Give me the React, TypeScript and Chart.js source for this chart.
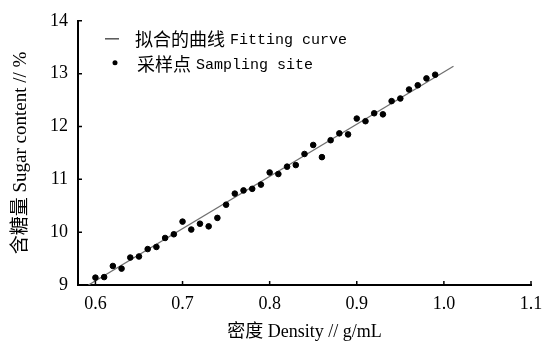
import React, { useEffect, useRef } from "react";
import { Chart, registerables } from "chart.js";

Chart.register(...registerables);

const densities = [0.60, 0.61, 0.62, 0.63, 0.64, 0.65, 0.66, 0.67, 0.68, 0.69, 0.70, 0.71, 0.72, 0.73, 0.74, 0.75, 0.76, 0.77, 0.78, 0.79, 0.80, 0.81, 0.82, 0.83, 0.84, 0.85, 0.86, 0.87, 0.88, 0.89, 0.90, 0.91, 0.92, 0.93, 0.94, 0.95, 0.96, 0.97, 0.98, 0.99];
const sugarContent = [9.14, 9.15, 9.36, 9.31, 9.52, 9.54, 9.68, 9.72, 9.89, 9.96, 10.20, 10.05, 10.16, 10.11, 10.27, 10.52, 10.73, 10.79, 10.82, 10.90, 11.13, 11.10, 11.24, 11.27, 11.48, 11.65, 11.42, 11.74, 11.87, 11.85, 12.15, 12.10, 12.25, 12.23, 12.48, 12.53, 12.70, 12.78, 12.91, 12.98];
const fitX = [0.592, 1.011];
const fitY = [9.0, 13.14];
const xTicks = [0.6, 0.7, 0.8, 0.9, 1.0, 1.1];
const yTicks = [9, 10, 11, 12, 13, 14];
const legendCn = ["拟合的曲线", "采样点"];
const legendEn = ["Fitting curve", "Sampling site"];
const xTitle = "密度 Density // g/mL";
const yTitle = "含糖量 Sugar content // %";

const CJK = "'Noto Sans CJK SC'";
const SERIF = "'Liberation Serif', 'Noto Sans CJK SC'";
const MONO = "'Liberation Mono', 'Noto Sans CJK SC'";

const inwardTicks = {
  id: "inwardTicks",
  afterDraw(chart: any) {
    const ctx = chart.ctx;
    const { left, bottom } = chart.chartArea;
    const xs = chart.scales.x;
    const ys = chart.scales.y;
    ctx.save();
    ctx.strokeStyle = "#000";
    ctx.lineWidth = 1.5;
    ctx.beginPath();
    for (const v of xTicks) {
      const px = xs.getPixelForValue(v);
      ctx.moveTo(px, bottom);
      ctx.lineTo(px, bottom - 4);
    }
    for (const v of yTicks) {
      const py = ys.getPixelForValue(v);
      ctx.moveTo(left, py);
      ctx.lineTo(left + 4, py);
    }
    ctx.stroke();
    ctx.restore();
  },
};

const customLegend = {
  id: "customLegend",
  afterDraw(chart: any) {
    const ctx = chart.ctx;
    const { left, top } = chart.chartArea;
    ctx.save();
    const rows = [top + 18, top + 43];
    ctx.strokeStyle = "#555";
    ctx.lineWidth = 1.5;
    ctx.beginPath();
    ctx.moveTo(left + 27, rows[0]);
    ctx.lineTo(left + 41, rows[0]);
    ctx.stroke();
    ctx.fillStyle = "#000";
    ctx.beginPath();
    ctx.arc(left + 37, rows[1] - 1, 2.5, 0, Math.PI * 2);
    ctx.fill();
    ctx.textBaseline = "middle";
    ctx.fillStyle = "#000";
    const starts = [left + 57, left + 59];
    for (let i = 0; i < 2; i++) {
      ctx.font = `18px ${CJK}`;
      ctx.fillText(legendCn[i], starts[i], rows[i]);
      const w = ctx.measureText(legendCn[i]).width;
      ctx.font = `15px ${MONO}`;
      ctx.fillText(legendEn[i], starts[i] + w + 5, rows[i] + 1);
    }
    ctx.restore();
  },
};

export default function App() {
  const ref = useRef<HTMLCanvasElement>(null);
  useEffect(() => {
    document.body.style.margin = "0";
    const chart = new Chart(ref.current as HTMLCanvasElement, {
      type: "scatter",
      data: {
        datasets: [
          {
            label: "采样点 Sampling site",
            data: densities.map((x, i) => ({ x, y: sugarContent[i] })),
            backgroundColor: "#000",
            borderColor: "#000",
            pointRadius: 2.8,
            pointHoverRadius: 2.8,
            order: 0,
          },
          {
            type: "line",
            label: "拟合的曲线 Fitting curve",
            data: fitX.map((x, i) => ({ x, y: fitY[i] })),
            borderColor: "#707070",
            borderWidth: 1.3,
            pointRadius: 0,
            showLine: true,
            fill: false,
            order: 1,
          } as any,
        ],
      },
      options: {
        animation: false,
        responsive: false,
        layout: { padding: { left: 0, right: 25, top: 18, bottom: 0 } },
        plugins: { legend: { display: false }, tooltip: { enabled: false } },
        scales: {
          x: {
            type: "linear",
            min: 0.58,
            max: 1.1,
            afterBuildTicks: (s: any) => {
              s.ticks = xTicks.map((v) => ({ value: v }));
            },
            afterFit: (s: any) => {
              s.height = 60;
            },
            grid: { display: false, drawTicks: false },
            border: { display: true, color: "#000", width: 2 },
            ticks: {
              color: "#000",
              padding: 8,
              font: { family: SERIF, size: 18 },
              callback: (v: any) => Number(v).toFixed(1),
              maxRotation: 0,
            },
            title: {
              display: true,
              text: xTitle,
              color: "#000",
              font: { family: SERIF, size: 18 },
              padding: { top: 0, bottom: 2 },
            },
          },
          y: {
            type: "linear",
            min: 9,
            max: 14,
            afterBuildTicks: (s: any) => {
              s.ticks = yTicks.map((v) => ({ value: v }));
            },
            afterFit: (s: any) => {
              s.width = 78;
            },
            grid: { display: false, drawTicks: false },
            border: { display: true, color: "#000", width: 2 },
            ticks: {
              color: "#000",
              padding: 10,
              font: { family: SERIF, size: 18 },
              callback: (v: any) => String(v),
            },
            title: {
              display: true,
              text: yTitle,
              color: "#000",
              font: { family: SERIF, size: 19 },
              padding: { top: 10, bottom: 0 },
            },
          },
        },
      },
      plugins: [inwardTicks, customLegend],
    });
    return () => chart.destroy();
  }, []);
  return <canvas ref={ref} width={556} height={345} style={{ display: "block" }} />;
}
